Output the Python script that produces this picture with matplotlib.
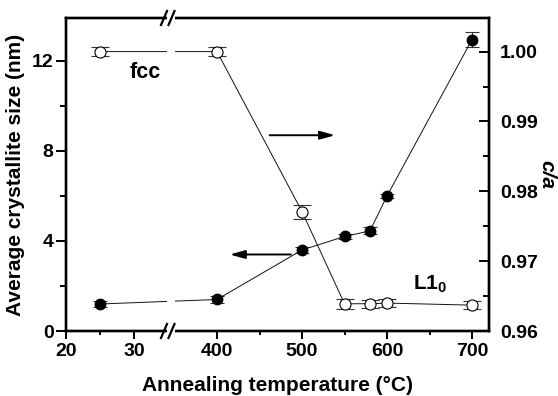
import numpy as np
import matplotlib
matplotlib.use("Agg")
import matplotlib.pyplot as plt

plt.rcParams['font.family'] = ['Liberation Sans', 'DejaVu Sans']
plt.rcParams['font.weight'] = 'bold'
plt.rcParams['mathtext.fontset'] = 'custom'
plt.rcParams['mathtext.bf'] = 'Liberation Sans:bold'
plt.rcParams['mathtext.rm'] = 'Liberation Sans:bold'

# ---- data ----
temps = [25, 400, 500, 550, 580, 600, 700]
size_nm = [1.2, 1.4, 3.6, 4.2, 4.45, 6.0, 12.95]
size_err = [0.15, 0.15, 0.12, 0.1, 0.15, 0.1, 0.33]
ca_ratio = [1.0000, 1.0000, 0.9771, 0.9639, 0.9639, 0.9640, 0.9637]
ca_err = [0.0006, 0.0006, 0.0010, 0.0007, 0.0006, 0.0006, 0.0006]
xticks_major = [20, 30, 400, 500, 600, 700]
xticks_minor = [25, 450, 550, 650]

# broken axis scale: 20..~35.6 (6.8 px/unit) and ~347..720 (0.85 px/unit)
def fwd(x):
    x = np.asarray(x, dtype=float)
    return np.where(x < 200, (x - 20) * 6.8, 151 + (x - 400) * 0.85)

def inv(u):
    u = np.asarray(u, dtype=float)
    return np.where(u < 106, u / 6.8 + 20, (u - 151) / 0.85 + 400)

fig = plt.figure(figsize=(5.58, 3.96), dpi=100)
ax = fig.add_axes([66/558, 1-331/396, (489-66)/558, (331-18)/396])
ax.set_xscale('function', functions=(fwd, inv))
ax.set_xlim(20, 720)
ax.set_ylim(0, 13.91)

ax.errorbar(temps, size_nm, yerr=size_err, fmt='o', color='#111111', ms=7.5,
            mfc='black', mec='black', ecolor='#333333', elinewidth=0.8,
            capsize=5, capthick=0.8, lw=0.7, ls='-', zorder=3)

ax2 = ax.twinx()
ax2.set_ylim(0.96, 1.00481)
ax2.errorbar(temps, ca_ratio, yerr=ca_err, fmt='o', color='#111111', ms=8,
             mfc='white', mec='black', mew=0.8, ecolor='#333333',
             elinewidth=0.8, capsize=6.5, capthick=0.8, lw=0.7, ls='-',
             zorder=3)

# ticks
ax.set_xticks(xticks_major)
ax.set_xticks(xticks_minor, minor=True)
ax.set_xticklabels([str(t) for t in xticks_major])
ax.set_yticks([0, 4, 8, 12])
ax.set_yticks([2, 6, 10], minor=True)
ax2.set_yticks([0.96, 0.97, 0.98, 0.99, 1.00])
ax2.set_yticklabels(['0.96', '0.97', '0.98', '0.99', '1.00'])
ax2.set_yticks([0.965, 0.975, 0.985, 0.995], minor=True)

ax.tick_params(axis='x', which='major', direction='out', length=6, width=1.4,
               labelsize=14, top=False, pad=3)
ax.tick_params(axis='x', which='minor', direction='out', length=3, width=1.4,
               top=False)
ax.tick_params(axis='y', which='major', direction='out', length=7, width=1.4,
               labelsize=14, right=False, pad=2)
ax.tick_params(axis='y', which='minor', direction='out', length=4, width=1.4,
               right=False)
ax2.tick_params(axis='y', which='major', direction='in', length=7, width=1.4,
                labelsize=14, pad=8)
ax2.tick_params(axis='y', which='minor', direction='in', length=4, width=1.4)
# top ticks pointing into the axes
ax2.tick_params(axis='x', which='both', direction='in', top=True, bottom=False,
                labeltop=False, labelbottom=False, length=7, width=1.4)
ax2.xaxis.set_ticks_position('top')
ax2.tick_params(axis='x', which='minor', length=7)

for a in (ax, ax2):
    for s in a.spines.values():
        s.set_linewidth(1.7)

ax.set_xlabel('Annealing temperature (\u00b0C)', fontsize=15,
              fontweight='bold', labelpad=11)
ax.set_ylabel('Average crystallite size (nm)', fontsize=15,
              fontweight='bold', labelpad=5)
ax2.set_ylabel('c/a', fontsize=15, fontweight='bold', style='italic',
               rotation=270, labelpad=13)

# axis break: white gap + double slashes
ax2.axvspan(34.85, 350.6, ymin=-0.03, ymax=1.03, color='white', zorder=5,
            clip_on=False, lw=0)
W, H = 423.0, 313.0
for cx in (164.0, 171.5):
    fx = (cx - 66) / W
    for fy in (0.0, 1.0):
        ax2.plot([fx - 3 / W, fx + 3 / W], [fy - 7 / H, fy + 7 / H],
                 transform=ax2.transAxes, color='black', lw=1.6,
                 clip_on=False, zorder=6)

# arrows
ax.annotate('', xy=(415, 3.4), xytext=(487, 3.4),
            arrowprops=dict(arrowstyle='-|>,head_length=0.9,head_width=0.25',
                            color='black', lw=1.4, shrinkA=0, shrinkB=0))
ax.annotate('', xy=(539, 8.7), xytext=(462, 8.7),
            arrowprops=dict(arrowstyle='-|>,head_length=0.9,head_width=0.25',
                            color='black', lw=1.4, shrinkA=0, shrinkB=0))

ax.text(31.6, 11.5, 'fcc', fontsize=15.5, fontweight='bold', ha='center',
        va='center')
ax.text(651, 2.1, r'$\mathbf{L1}_{\mathbf{0}}$', fontsize=15, ha='center',
        va='center')

fig.savefig('out.png', dpi=100)
